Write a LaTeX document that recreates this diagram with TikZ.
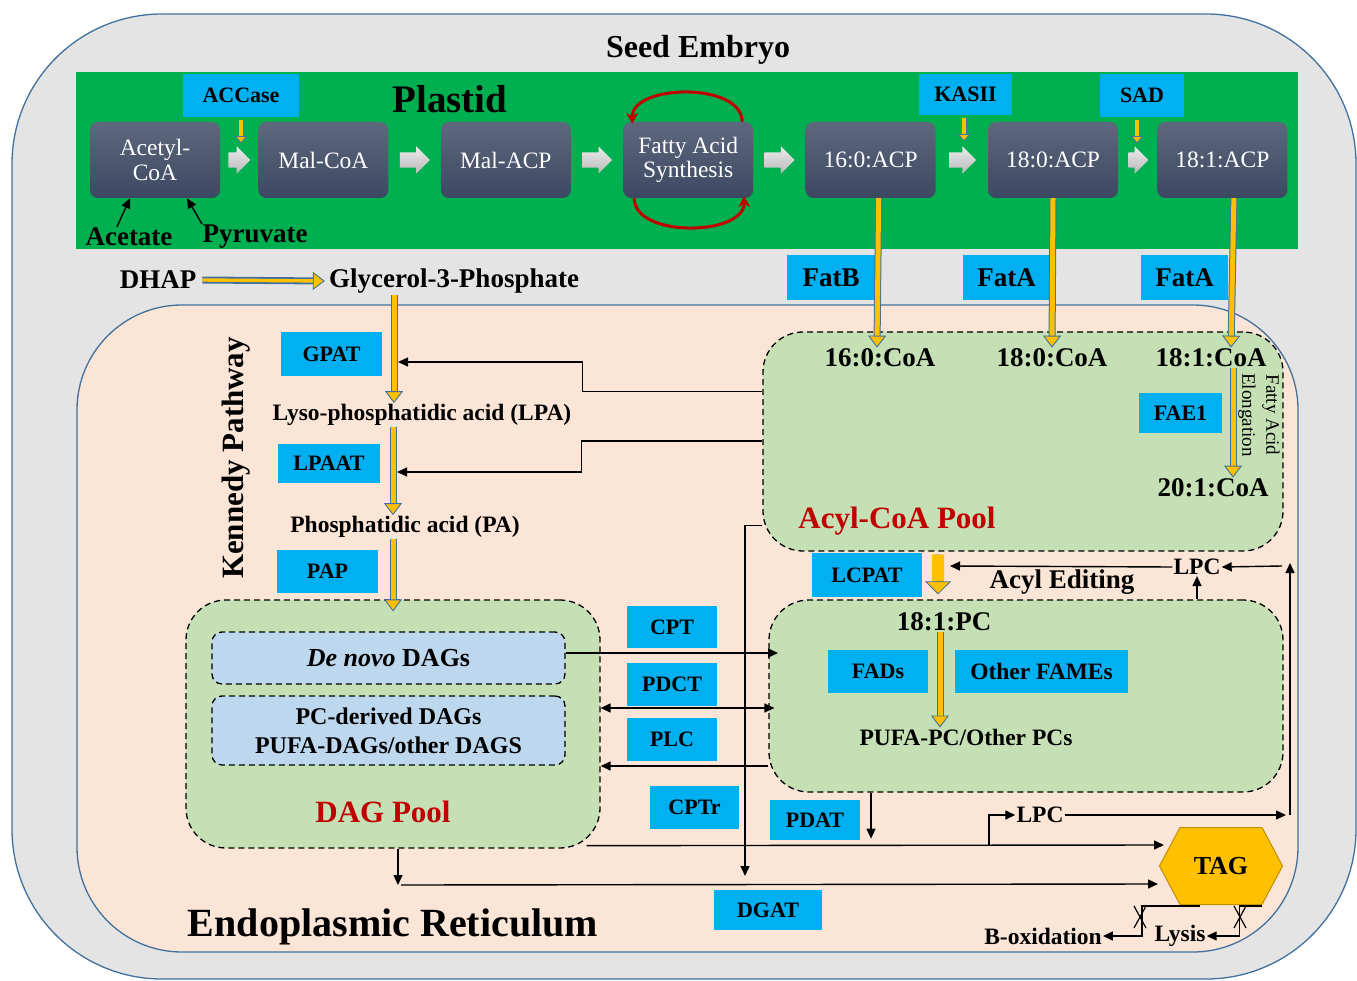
\documentclass[tikz,border=0pt]{standalone}
\usepackage{fontspec}
\setmainfont{Liberation Serif}
\usepackage{tikz}
\usetikzlibrary{positioning,arrows.meta,shapes.arrows,shapes.symbols}

\definecolor{embryogray}{HTML}{E4E4E4}
\definecolor{rimblue}{HTML}{41719C}
\definecolor{plastidgreen}{HTML}{00B050}
\definecolor{erpeach}{HTML}{FBE5D6}
\definecolor{poolgreen}{HTML}{C5E0B4}
\definecolor{dagblue}{HTML}{BDD7EE}
\definecolor{enzblue}{HTML}{00B0F0}
\definecolor{fluxyellow}{HTML}{FFC000}
\definecolor{boxtop}{HTML}{5E687D}
\definecolor{boxbottom}{HTML}{3C4862}
\definecolor{poolred}{HTML}{C00000}

\newcommand{\fsz}[1]{\fontsize{#1pt}{#1pt}\selectfont}
\newcommand{\fszl}[2]{\fontsize{#1pt}{#2pt}\selectfont}

\tikzstyle{acpbox} = [rectangle, rounded corners=8pt, minimum width=130pt, minimum height=76pt, top color=boxtop, bottom color=boxbottom, text=white, font=\fszl{23.5}{24.5}, align=center, inner sep=2pt]
\tikzstyle{flowarrow} = [single arrow, single arrow head extend=6pt, inner sep=0pt, text height=15pt, text depth=0pt, minimum height=30pt, top color=gray!15, bottom color=gray!55]
\tikzstyle{enzyme} = [rectangle, fill=enzblue, font=\bfseries\fsz{22}, inner sep=0pt]
\tikzstyle{bigenzyme} = [enzyme, font=\bfseries\fsz{27}]
\tikzstyle{metab} = [font=\bfseries\fsz{27}, inner sep=1pt]
\tikzstyle{lipid} = [font=\bfseries\fsz{23.5}, inner sep=1pt]
\tikzstyle{pool} = [rectangle, rounded corners=40pt, draw=black, fill=poolgreen, line width=1.3pt, dash pattern=on 6pt off 4pt]
\tikzstyle{dagbox} = [rectangle, rounded corners=10pt, draw=black, fill=dagblue, line width=1.3pt, dash pattern=on 6pt off 4pt, align=center]
\tikzstyle{poollabel} = [font=\bfseries\fsz{31}, text=poolred]
\tikzstyle{yarrow} = [line width=5pt, draw=fluxyellow, -{Triangle[length=12pt, width=18pt, fill=fluxyellow, color=rimblue, line width=0.9pt]}, preaction={draw=rimblue, line width=7pt, shorten >=11pt, -}]
\tikzstyle{smallyarrow} = [line width=3.4pt, draw=fluxyellow, -{Triangle[length=7pt, width=12pt, fill=fluxyellow, color=rimblue, line width=0.7pt]}, preaction={draw=rimblue, line width=5pt, shorten >=6pt, -}]
\tikzstyle{link} = [line width=1.4pt, -{Triangle[length=10pt, width=9pt]}]
\tikzstyle{linkboth} = [line width=1.4pt, {Triangle[length=10pt, width=9pt]}-{Triangle[length=10pt, width=9pt]}]
\tikzstyle{fasloop} = [draw=poolred, line width=3pt, -{Stealth[length=11pt, width=12pt]}]

\begin{document}
\begin{tikzpicture}[x=1pt, y=-1pt, node distance=52pt]
\useasboundingbox (0,0) rectangle (1357,981);

% compartments
\draw[fill=embryogray, draw=rimblue, line width=1.3pt, rounded corners=150pt] (12,14) rectangle (1356,979);
\fill[plastidgreen] (76,72) rectangle (1298,249);
\draw[fill=erpeach, draw=rimblue, line width=1.3pt, rounded corners=105pt] (77,305) rectangle (1298,952);

\node[font=\bfseries\fsz{32}] (embryo) at (698,50) {Seed Embryo};
\node[font=\bfseries\fsz{39}] (plastid) at (450,99) {Plastid};
\node[font=\bfseries\fsz{40}] (er) at (393,927) {Endoplasmic Reticulum};
\node[font=\bfseries\fsz{31}, rotate=90] (kennedy) at (236,458) {Kennedy Pathway};

% plastid chain
\node[acpbox] (acetyl) at (155,160) {Acetyl-\\CoA};
\node[acpbox, right=38pt of acetyl] (malcoa) {Mal-CoA};
\node[acpbox, right=of malcoa] (malacp) {Mal-ACP};
\node[acpbox, right=of malacp] (fas) {Fatty Acid\\Synthesis};
\node[acpbox, right=of fas] (p160) {16:0:ACP};
\node[acpbox, right=of p160] (p180) {18:0:ACP};
\node[acpbox, right=39pt of p180] (p181) {18:1:ACP};

\node[flowarrow, minimum height=22pt, right=8pt of acetyl] (f1) {};
\node[flowarrow, right=11pt of malcoa] (f2) {};
\node[flowarrow, right=11pt of malacp] (f3) {};
\node[flowarrow, right=11pt of fas] (f4) {};
\node[flowarrow, minimum height=27pt, right=13pt of p160] (f5) {};
\node[flowarrow, minimum height=20pt, right=10pt of p180] (f6) {};

\node[enzyme, minimum width=116pt, minimum height=43pt] (accase) at (241,95.5) {ACCase};
\node[enzyme, minimum width=93pt, minimum height=41pt] (kasii) at (965.5,94.5) {KASII};
\node[enzyme, minimum width=84pt, minimum height=43pt] (sad) at (1142,95.5) {SAD};
\draw[smallyarrow] ([yshift=-3pt]accase.south) -- ++(0,23);
\draw[smallyarrow] ([xshift=-1.5pt,yshift=-3pt]kasii.south) -- ++(0,23);
\draw[smallyarrow] ([xshift=-5pt,yshift=-3pt]sad.south) -- ++(0,23);

\node[metab] (acetate) at (129,237) {Acetate};
\node[metab] (pyruvate) at (255,237) {Pyruvate};
\draw[link] ([xshift=-12pt]acetate.north) -- ([xshift=-25pt]acetyl.south);
\draw[link] ([xshift=-53pt]pyruvate.north) -- ([xshift=32pt]acetyl.south);

\draw[fasloop] ([xshift=54pt]fas.north) .. controls +(0,-40) and +(0,-40) .. ([xshift=-56pt,yshift=-2pt]fas.north);
\draw[fasloop] ([xshift=-54pt]fas.south) .. controls +(0,40) and +(0,40) .. ([xshift=56pt,yshift=2pt]fas.south);

% between plastid and ER
\node[metab] (dhap) at (158,280) {DHAP};
\node[metab] (g3p) at (454,281) {Glycerol-3-Phosphate};
\node[bigenzyme, minimum width=88pt, minimum height=45pt] (fatb) at (831,277.5) {FatB};
\node[bigenzyme, minimum width=87pt, minimum height=45pt] (fataone) at (1006.5,277.5) {FatA};
\node[bigenzyme, minimum width=87pt, minimum height=45pt] (fatatwo) at (1184.5,277.5) {FatA};
\draw[yarrow, line width=3.4pt, preaction={line width=5.4pt}] ([xshift=5pt]dhap.east) -- ([xshift=-3pt]g3p.west);

% pools
\node[pool, minimum width=520pt, minimum height=219pt] (acylpool) at (1023,441.5) {};
\node[pool, minimum width=514pt, minimum height=192pt] (pcpool) at (1026,696) {};
\node[pool, minimum width=414pt, minimum height=248pt] (dagpool) at (393,724) {};

% acyl-CoA pool
\node[metab] (c160) at (880,358) {16:0:CoA};
\node[metab] (c180) at (1052,358) {18:0:CoA};
\node[metab] (c181) at (1211,358) {18:1:CoA};
\node[metab] (c201) at (1213,488) {20:1:CoA};
\node[enzyme, minimum width=83pt, minimum height=40pt] (fae) at (1180.5,413) {FAE1};
\node[font=\fszl{19}{24}, rotate=-90, align=center] (elong) at (1259,415) {Fatty Acid\\Elongation};
\node[poollabel] (acyllabel) at (897,521) {Acyl-CoA Pool};
\draw[yarrow] ([xshift=8pt]p160.south) -- ([xshift=-3pt]c160.north);
\draw[yarrow] (p180.south) -- (c180.north);
\draw[yarrow] ([xshift=11.5pt]p181.south) -- ([xshift=20pt]c181.north);
\draw[yarrow] ([xshift=22pt]c181.south) -- ([xshift=20pt]c201.north);

% Kennedy pathway
\node[enzyme, minimum width=101pt, minimum height=44pt] (gpat) at (331.5,354) {GPAT};
\node[lipid] (lpa) at (422,415) {Lyso-phosphatidic acid (LPA)};
\node[enzyme, minimum width=102pt, minimum height=39pt] (lpaat) at (329,463.5) {LPAAT};
\node[lipid] (pa) at (405,527) {Phosphatidic acid (PA)};
\node[enzyme, minimum width=101pt, minimum height=43pt] (pap) at (327.5,571.5) {PAP};
\draw[yarrow] ([xshift=-60pt,yshift=-1pt]g3p.south) -- ([xshift=-28pt]lpa.north);
\draw[yarrow] ([xshift=-29pt]lpa.south) -- ([xshift=-12pt]pa.north);
\draw[yarrow] (pa.south -| dagpool.north) -- ([yshift=-12pt]dagpool.north);

\coordinate (gpatin) at (398,362);
\coordinate (lpaatin) at (397,472);
\draw[link] ([yshift=50pt]acylpool.west) -- ++(-180,0) |- (gpatin);
\draw[link] ([yshift=0.5pt]acylpool.west) -- ++(-181,0) |- (lpaatin);

% DAG pool
\node[dagbox, minimum width=353pt, minimum height=52pt, font=\bfseries\fsz{26}] (denovo) at (388.5,658) {\textit{De novo} DAGs};
\node[dagbox, minimum width=353pt, minimum height=69pt, font=\bfseries\fszl{24}{29}] (pcdag) at (388.5,730.5) {PC-derived DAGs\\PUFA-DAGs/other DAGS};
\node[poollabel] (daglabel) at (383,812) {DAG Pool};

% PC pool and acyl editing
\node[enzyme, minimum width=110pt, minimum height=44pt] (lcpat) at (867,575) {LCPAT};
\node[metab] (acyledit) at (1062,582) {Acyl Editing};
\node[lipid] (lpcup) at (1197,567) {LPC};
\node[metab] (pc181) at (944,622) {18:1:PC};
\node[enzyme, minimum width=100pt, minimum height=43pt] (fads) at (878,671.5) {FADs};
\node[enzyme, minimum width=173pt, minimum height=43pt, font=\bfseries\fsz{23.5}] (fames) at (1041.5,671.5) {Other FAMEs};
\node[lipid] (pufapc) at (966,737) {PUFA-PC/Other PCs};
\draw[yarrow] ([xshift=-4pt]pc181.south) -- ([xshift=-26pt]pufapc.north);
\draw[yarrow, line width=12pt, preaction={line width=13.6pt, shorten >=11pt}, -{Triangle[length=13pt, width=26pt, fill=fluxyellow, color=rimblue, line width=0.8pt]}] ([yshift=-3pt]acylpool.south -| lcpat.east) ++(16,0) -- ([yshift=5pt]pcpool.north -| 938,0);

\coordinate (lcpatin) at (950,566);
\coordinate (lpcfeed) at (1282,566);
\coordinate (rt) at (1290,563);
\coordinate (rb) at (1290,815);
\draw[link] (lpcup.west) -- (lcpatin);
\draw[link] (lpcfeed) -- (lpcup.east);
\draw[link] (pcpool.north -| lpcup) -- (lpcup.south);
\draw[line width=1.4pt, -{Triangle[length=10pt, width=9pt]}] (rb) -- (rt);

% exchange between DAG and PC pools
\node[enzyme, minimum width=90pt, minimum height=42pt] (cpt) at (672,627) {CPT};
\node[enzyme, minimum width=90pt, minimum height=43pt] (pdct) at (672,684.5) {PDCT};
\node[enzyme, minimum width=90pt, minimum height=43pt] (plc) at (672,739.5) {PLC};
\node[enzyme, minimum width=89pt, minimum height=43pt] (cptr) at (694.5,807.5) {CPTr};
\node[enzyme, minimum width=90pt, minimum height=40pt] (pdat) at (815,820) {PDAT};
\node[enzyme, minimum width=108pt, minimum height=40pt] (dgat) at (768,910) {DGAT};

\coordinate (cptin) at (778,653);
\draw[link] (denovo.east |- cptin) -- (cptin);
\draw[linkboth] (dagpool.east |- 0,708) -- ([xshift=6pt]pcpool.west |- 0,708);
\draw[link] (pcpool.west |- 0,766) -- (dagpool.east |- 0,766);
\coordinate (dgatin) at (745,876);
\draw[link] ([yshift=-84pt]acylpool.west) -| (dgatin);
\draw[link] (pcpool.south -| 871,0) -- ++(0,46);

% TAG
\node[signal, signal to=west and east, signal pointer angle=124, fill=fluxyellow, draw=fluxyellow!75!black, line width=1pt, minimum width=123pt, minimum height=77pt, inner sep=0pt, font=\bfseries\fsz{26}] (tag) at (1221,866) {TAG};
\node[lipid] (lpcdown) at (1040,815) {LPC};
\coordinate (tagin) at (1164,845);
\coordinate (lpcfork) at (989,845);
\draw[link] ([xshift=-14pt,yshift=3pt]dagpool.south east) -- (tagin);
\draw[link] (lpcfork) |- (lpcdown.west);
\draw[link] (lpcdown.east) -- ([xshift=-4pt]rb);
\coordinate (dagturn) at (398,885);
\coordinate (tagbottom) at (1158,884);
\draw[link] (dagpool.south -| dagturn) -- (dagturn);
\draw[link] ([xshift=3pt]dagturn) -- (tagbottom);

\node[lipid] (boxid) at (1043,936) {B-oxidation};
\node[lipid] (lysis) at (1180,936) {Lysis};
\draw[link] ([xshift=-21pt,yshift=-1pt]tag.south) -| ([xshift=39pt]boxid.east) -- (boxid.east);
\draw[link] ([xshift=41pt,yshift=-1pt]tag.south) -| ([xshift=33pt]lysis.east) -- (lysis.east);
\draw[line width=1.2pt] (1134,906) -- (1146,928) (1134,928) -- (1146,906);
\draw[line width=1.2pt] (1234,906) -- (1246,928) (1234,928) -- (1246,906);

\end{tikzpicture}
\end{document}
